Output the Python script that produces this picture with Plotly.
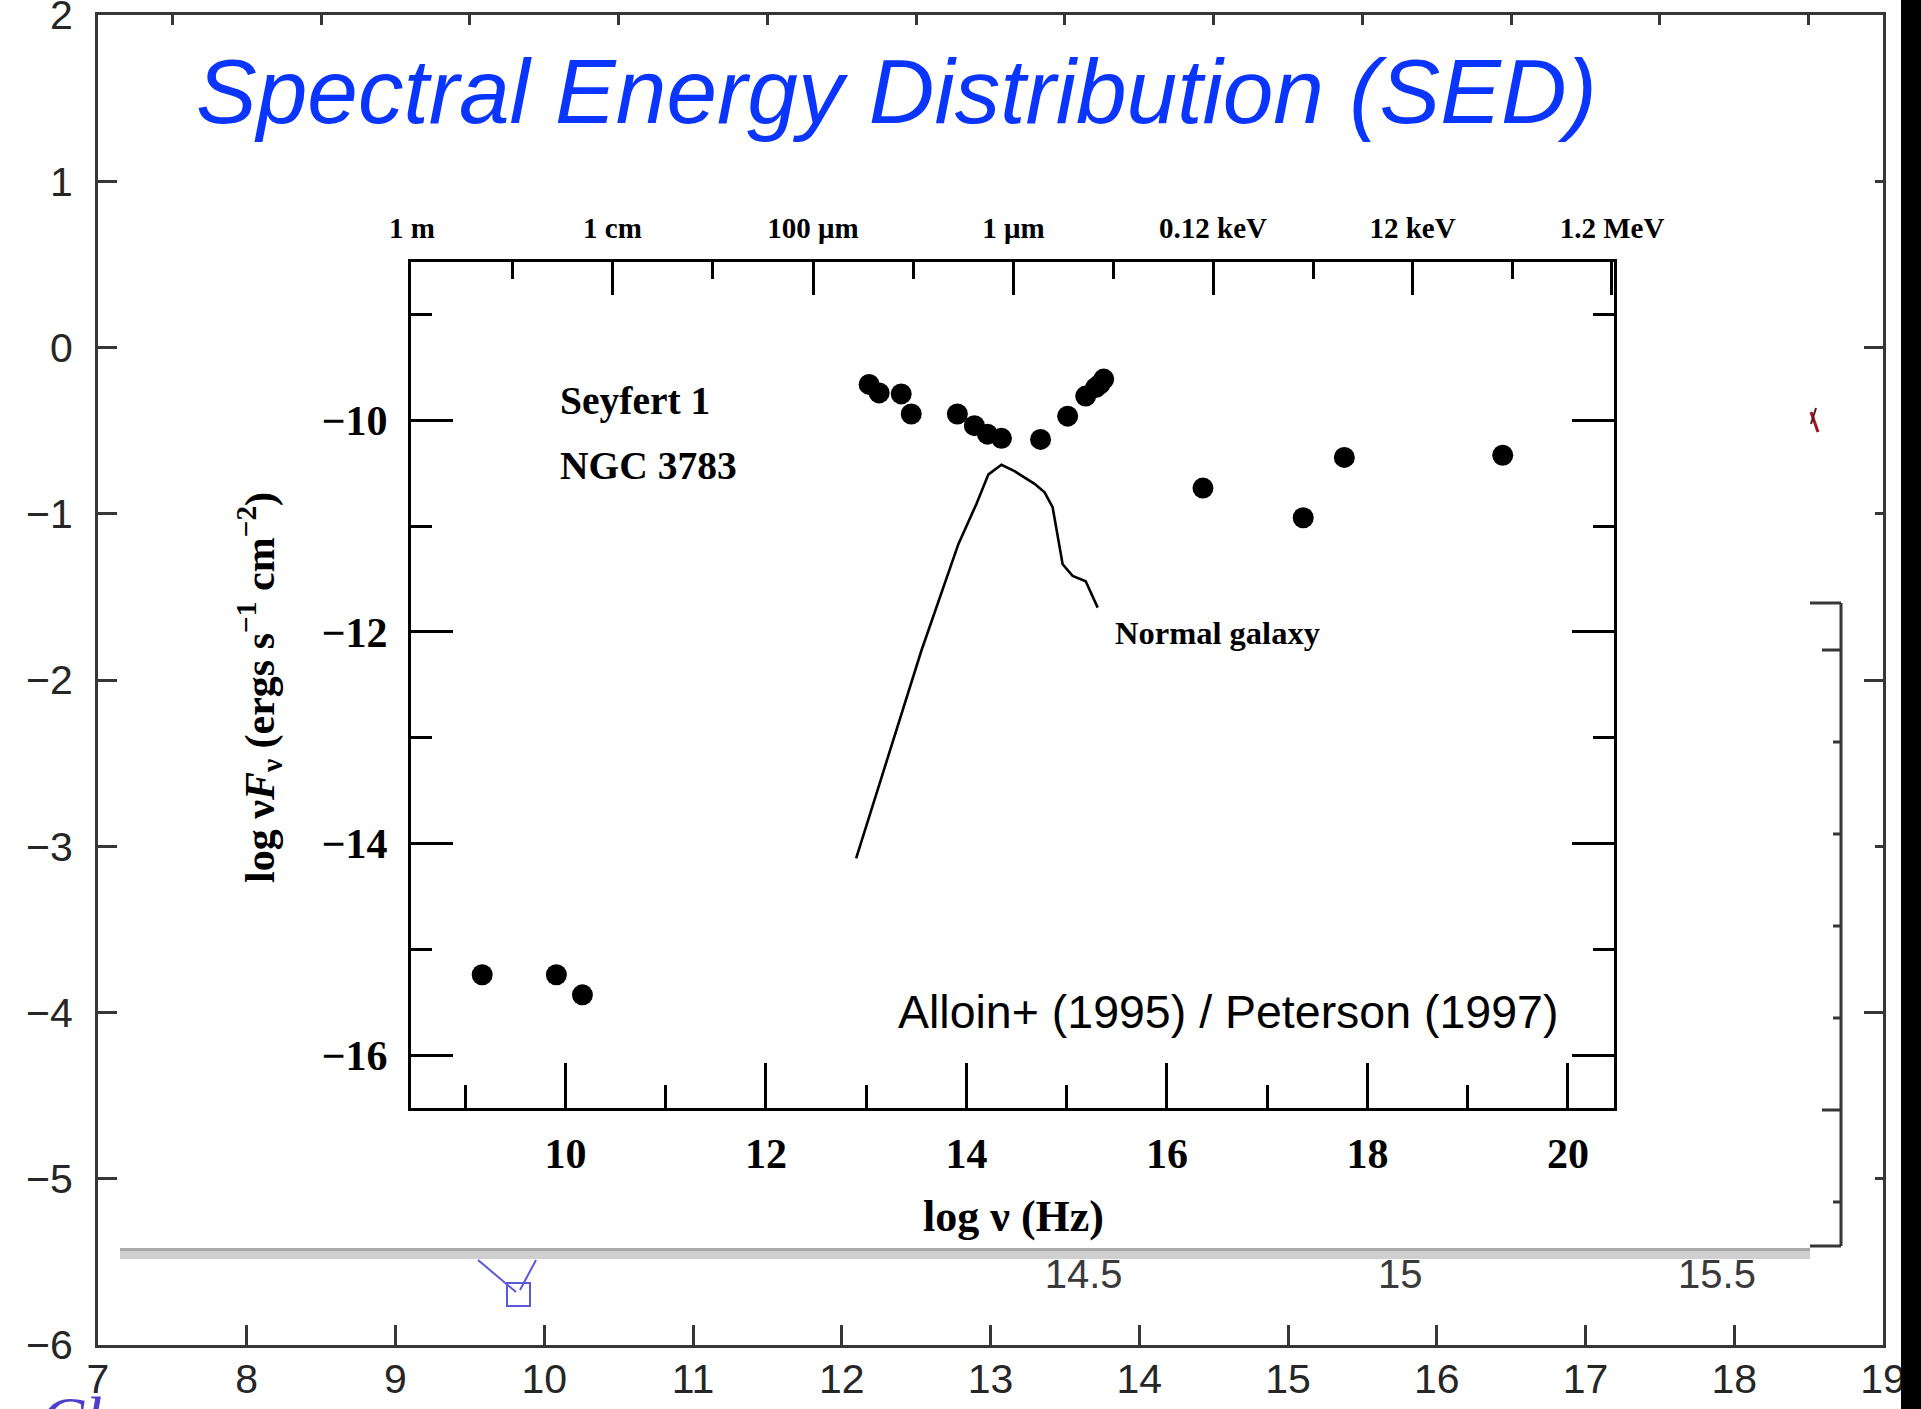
import plotly.graph_objects as go

# ------------------------------------------------------------------
# Data
# ------------------------------------------------------------------
# Seyfert 1 NGC 3783 photometry (log nu [Hz], log nuF_nu [erg s^-1 cm^-2])
seyfert_lognu = [9.17, 9.91, 10.17,
                 13.03, 13.13, 13.35, 13.45, 13.91, 14.08, 14.21, 14.35,
                 14.74, 15.01, 15.19, 15.29, 15.33, 15.37,
                 16.36, 17.36, 17.77, 19.35]
seyfert_flux = [-15.24, -15.24, -15.43,
                -9.66, -9.74, -9.75, -9.94, -9.94, -10.05, -10.13, -10.17,
                -10.18, -9.96, -9.77, -9.69, -9.66, -9.61,
                -10.64, -10.92, -10.35, -10.33]

# Normal galaxy template curve
galaxy_lognu = [12.90, 13.55, 13.92, 14.10, 14.22, 14.35, 14.48, 14.68,
                14.78, 14.86, 14.96, 15.06, 15.19, 15.31]
galaxy_flux = [-14.14, -12.18, -11.17, -10.79, -10.51, -10.42, -10.48, -10.60,
               -10.68, -10.82, -11.36, -11.47, -11.52, -11.77]

# Inner (scanned) plot ticks
inner_xticks = [10, 12, 14, 16, 18, 20]
inner_xminor = [9, 11, 13, 15, 17, 19]
inner_yticks = [-10, -12, -14, -16]
inner_yminor = [-9, -11, -13, -15]
top_tick_lognu = [8.47, 10.47, 12.47, 14.47, 16.46, 18.45, 20.44]
top_tick_text = ["1 m", "1 cm", "100 μm", "1 μm", "0.12 keV", "12 keV", "1.2 MeV"]
top_minor_lognu = [9.47, 11.47, 13.47, 15.47, 17.46, 19.45]

# Outer (background) plot ticks
outer_xticks = [7, 8, 9, 10, 11, 12, 13, 14, 15, 16, 17, 18, 19]
outer_yticks = [-6, -5, -4, -3, -2, -1, 0, 1, 2]
outer_top_ticks = [7.5, 8.5, 9.5, 10.5, 11.5, 12.5, 13.5, 14.5, 15.5, 16.5, 17.5, 18.5]
outer_right_major = [-6, -4, -2, 0, 2]
outer_right_minor = [-5, -3, -1, 1]

# Fragment of another axis peeking out below the pasted figure
frag_ticks = [14.5, 15, 15.5]
frag_text = ["14.5", "15", "15.5"]

# ------------------------------------------------------------------
# Geometry helpers (page pixels -> paper)
# ------------------------------------------------------------------
W, H = 1921, 1409
ML, MR, MT, MB = 98, 38, 15, 64
PW, PH = W - ML - MR, H - MT - MB


def px(X):
    return (X - ML) / PW


def py(Y):
    return 1 - (Y - MT) / PH


SERIF = "Liberation Serif, Times New Roman, serif"
SANS = "Liberation Sans, Arial, sans-serif"
OUT_INK = "#363636"
LBL_INK = "#262626"

fig = go.Figure()

# invisible traces so that every axis pair is built
fig.add_trace(go.Scatter(x=[], y=[], xaxis="x", yaxis="y", showlegend=False))
fig.add_trace(go.Scatter(x=[], y=[], xaxis="x4", yaxis="y", showlegend=False))
fig.add_trace(go.Scatter(x=[], y=[], xaxis="x5", yaxis="y", showlegend=False))
fig.add_trace(go.Scatter(x=[], y=[], xaxis="x", yaxis="y3", showlegend=False))
fig.add_trace(go.Scatter(x=[], y=[], xaxis="x3", yaxis="y2", showlegend=False))

# Normal galaxy curve
fig.add_trace(go.Scatter(
    x=galaxy_lognu, y=galaxy_flux, xaxis="x2", yaxis="y2", mode="lines",
    line=dict(color="black", width=2.6), showlegend=False, hoverinfo="skip"))

# Seyfert points
fig.add_trace(go.Scatter(
    x=seyfert_lognu, y=seyfert_flux, xaxis="x2", yaxis="y2", mode="markers",
    marker=dict(color="black", size=21, line=dict(width=0)),
    showlegend=False))

inner_dom_x = [px(411), px(1614)]
inner_dom_y = [py(1108), py(261.7)]
inner_xrange = [8.46, 20.46]

common = dict(showgrid=False, zeroline=False, automargin=False)

fig.update_layout(
    template="none",
    # drawn 16 px smaller first (fits beside the default body margin, so the
    # page never overflows); resized to the full window in post_script
    width=W - 16, height=H - 16, autosize=False,
    margin=dict(l=ML, r=MR, t=MT, b=MB, pad=0, autoexpand=False),
    paper_bgcolor="white", plot_bgcolor="white",
    showlegend=False,
    # ---------- outer plot ----------
    xaxis=dict(
        domain=[0, 1], range=[7, 19], anchor="y",
        showline=True, linecolor=OUT_INK, linewidth=3, mirror=True,
        ticks="inside", ticklen=20, tickwidth=3, tickcolor=OUT_INK,
        tickvals=outer_xticks, ticktext=[str(v) for v in outer_xticks],
        tickfont=dict(family=SANS, size=41, color=LBL_INK),
        ticklabelstandoff=-4, ticklabeloverflow="allow", **common),
    yaxis=dict(
        domain=[0, 1], range=[-6, 2], anchor="x",
        showline=True, linecolor=OUT_INK, linewidth=3, mirror=True,
        ticks="inside", ticklen=19, tickwidth=3, tickcolor=OUT_INK,
        tickvals=outer_yticks,
        tickfont=dict(family=SANS, size=41, color=LBL_INK),
        ticklabelstandoff=14, ticklabeloverflow="allow", **common),
    xaxis4=dict(
        overlaying="x", side="top", anchor="y", range=[7, 19],
        showline=False, ticks="inside", ticklen=10, tickwidth=3,
        tickcolor=OUT_INK, tickvals=outer_top_ticks, showticklabels=False,
        **common),
    yaxis3=dict(
        overlaying="y", side="right", anchor="x", range=[-6, 2],
        showline=False, ticks="inside", ticklen=19, tickwidth=3,
        tickcolor=OUT_INK, tickvals=outer_right_major, showticklabels=False,
        minor=dict(tickvals=outer_right_minor, ticks="inside", ticklen=8,
                   tickwidth=3, tickcolor=OUT_INK, showgrid=False),
        **common),
    xaxis5=dict(
        overlaying="x", anchor="free", position=py(1246.5), side="bottom",
        range=[12.944, 15.762], showline=False, ticks="",
        tickvals=frag_ticks, ticktext=frag_text,
        tickfont=dict(family=SANS, size=40, color="#3a3a3a"),
        ticklabelstandoff=0, ticklabeloverflow="allow", **common),
    # ---------- inner (pasted) plot ----------
    xaxis2=dict(
        domain=inner_dom_x, range=inner_xrange, anchor="y2",
        showline=True, linecolor="black", linewidth=3, mirror=True,
        ticks="inside", ticklen=45, tickwidth=3, tickcolor="black",
        tickvals=inner_xticks, ticktext=[str(v) for v in inner_xticks],
        minor=dict(tickvals=inner_xminor, ticks="inside", ticklen=23,
                   tickwidth=3, tickcolor="black", showgrid=False),
        tickfont=dict(family=SERIF, size=42, color="black", weight="bold"),
        ticklabelstandoff=7, ticklabeloverflow="allow", **common),
    yaxis2=dict(
        domain=inner_dom_y, range=[-16.5, -8.5], anchor="x2",
        showline=True, linecolor="black", linewidth=3, mirror="ticks",
        ticks="inside", ticklen=42, tickwidth=3, tickcolor="black",
        tickvals=inner_yticks,
        minor=dict(tickvals=inner_yminor, ticks="inside", ticklen=21,
                   tickwidth=3, tickcolor="black", showgrid=False),
        tickfont=dict(family=SERIF, size=42, color="black", weight="bold"),
        ticklabelstandoff=12, ticklabeloverflow="allow", **common),
    xaxis3=dict(
        overlaying="x2", side="top", anchor="y2", range=inner_xrange,
        showline=False, ticks="inside", ticklen=33, tickwidth=3,
        tickcolor="black", tickvals=top_tick_lognu, ticktext=top_tick_text,
        minor=dict(tickvals=top_minor_lognu, ticks="inside", ticklen=17,
                   tickwidth=3, tickcolor="black", showgrid=False),
        tickfont=dict(family=SERIF, size=29, color="black", weight="bold"),
        ticklabelstandoff=17, ticklabeloverflow="allow", **common),
)

annotations = [
    dict(text="<i>Spectral Energy Distribution (SED)</i>",
         x=px(194), y=py(92), xanchor="left", yanchor="middle",
         font=dict(family=SANS, size=91, color="#0a35ff")),
    dict(text="<b>Seyfert 1</b>", xref="x2", yref="y2", x=9.93, y=-9.82,
         xanchor="left", yanchor="middle",
         font=dict(family=SERIF, size=39.5, color="black")),
    dict(text="<b>NGC 3783</b>", xref="x2", yref="y2", x=9.93, y=-10.43,
         xanchor="left", yanchor="middle",
         font=dict(family=SERIF, size=39.5, color="black")),
    dict(text="<b>Normal galaxy</b>", xref="x2", yref="y2", x=15.46, y=-12.01,
         xanchor="left", yanchor="middle",
         font=dict(family=SERIF, size=32.5, color="black")),
    dict(text="Alloin+ (1995) / Peterson (1997)", xref="x2", yref="y2",
         x=13.30, y=-15.59, xanchor="left", yanchor="middle",
         font=dict(family=SANS, size=46.5, color="black")),
    dict(text="<b>log ν (Hz)</b>", x=px(1014), y=py(1216),
         xanchor="center", yanchor="middle",
         font=dict(family=SERIF, size=44, color="black")),
    dict(text="<b>log ν<i>F</i><sub>ν</sub> (ergs s<sup>−1</sup> cm<sup>−2</sup>)</b>",
         x=px(259), y=py(688), xanchor="center", yanchor="middle",
         textangle=-90,
         font=dict(family=SERIF, size=42, color="black")),
    dict(text="<i>Cl</i>", x=px(38), y=py(1381), xanchor="left", yanchor="top",
         font=dict(family=SERIF, size=66, color="#4d3fcc")),
]
for a in annotations:
    a.setdefault("xref", "paper")
    a.setdefault("yref", "paper")
    a["showarrow"] = False
fig.update_layout(annotations=annotations)


def seg(x0, y0, x1, y1, color=OUT_INK, width=3):
    return dict(type="line", xref="paper", yref="paper",
                x0=px(x0), y0=py(y0), x1=px(x1), y1=py(y1),
                line=dict(color=color, width=width))


shapes = []
# grey shadow bar at the bottom edge of the pasted figure
shapes.append(dict(type="rect", xref="paper", yref="paper",
                   x0=px(120), x1=px(1810), y0=py(1259), y1=py(1248),
                   fillcolor="#cfcfcf", line=dict(width=0), layer="above"))
shapes.append(dict(type="rect", xref="paper", yref="paper",
                   x0=px(120), x1=px(1810), y0=py(1251), y1=py(1248),
                   fillcolor="#a9a9a9", line=dict(width=0), layer="above"))
# small blue marker below the bar
shapes.append(dict(type="rect", xref="paper", yref="paper",
                   x0=px(507), x1=px(530), y0=py(1306), y1=py(1283),
                   line=dict(color="#5a5ad8", width=2), fillcolor="rgba(0,0,0,0)"))
shapes.append(seg(478, 1260, 516, 1292, "#5a5ad8", 2))
shapes.append(seg(536, 1260, 520, 1290, "#5a5ad8", 2))
# bracket on the right
bx = 1841
shapes.append(seg(bx, 603, bx, 1246))
for yy in (603, 1246):
    shapes.append(seg(1810, yy, bx, yy))
for yy, ln in ((650, 19), (742, 8), (834, 8), (926, 8), (1018, 8),
               (1110, 19), (1202, 8)):
    shapes.append(seg(bx - ln, yy, bx, yy))
# small red mark
shapes.append(seg(1811, 412, 1818, 432, "#a0141e", 3))
shapes.append(seg(1811, 424, 1816, 408, "#5a1a1a", 2))
# black strip at the right edge
shapes.append(dict(type="rect", xref="paper", yref="paper",
                   x0=px(1901), x1=px(1925), y0=py(1412), y1=py(-3),
                   fillcolor="#000000", line=dict(width=0), layer="above"))
fig.update_layout(shapes=shapes)

post = (
    "document.documentElement.style.margin='0';"
    "document.body.style.margin='0';"
    "document.documentElement.style.overflow='hidden';"
    "document.body.style.overflow='hidden';"
    "var gd=document.getElementById('{plot_id}');"
    "Plotly.relayout(gd,{width:%d,height:%d});" % (W, H)
)
fig.write_html("out.html", config={"displayModeBar": False}, post_script=post)
